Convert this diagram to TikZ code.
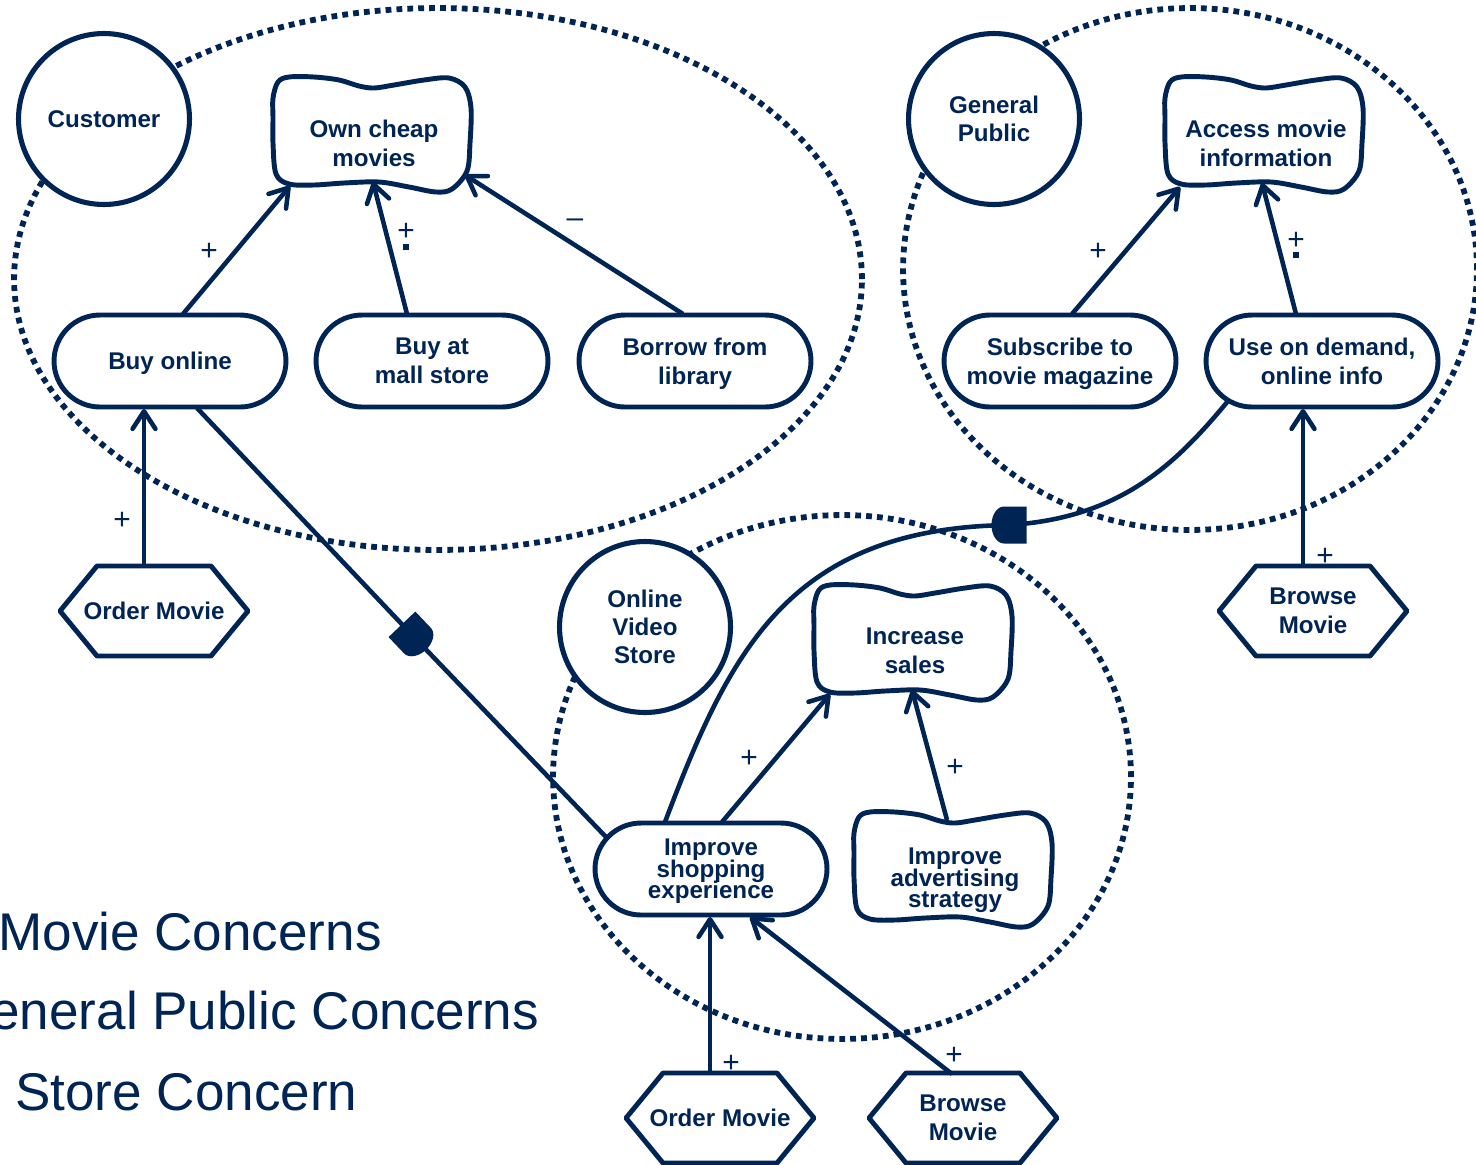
\documentclass[tikz,border=0pt]{standalone}
\usepackage{fontspec}
\setmainfont{Liberation Sans}
\usetikzlibrary{arrows.meta,shapes.misc,calc}
\definecolor{navy}{HTML}{002454}

\tikzset{
  actor/.style={circle, draw=navy, line width=2.9pt, fill=white, minimum size=3.42cm,
    inner sep=0pt, align=center, text=navy, text depth=0pt,
    font=\bfseries\fontsize{13.75}{16}\selectfont},
  goal/.style={rounded rectangle, draw=navy, line width=2.8pt, fill=white,
    minimum width=4.64cm, minimum height=1.84cm, inner sep=0pt, align=center, text=navy,
    text depth=0pt, font=\bfseries\fontsize{13.75}{16.4}\selectfont},
  lbl/.style={text=navy, font=\bfseries\fontsize{13.75}{16.4}\selectfont, align=center,
    inner sep=0pt, text depth=0pt},
  tight/.style={font={\bfseries\fontsize{13.75}{12.2}\selectfont\lineskiplimit-20pt\relax}},
  sgline/.style={draw=navy, line width=2.8pt, fill=white},
  taskline/.style={draw=navy, line width=2.8pt, fill=white, line join=round},
  boundary/.style={draw=navy, line width=3.3pt, dash pattern=on 3.3pt off 2.9pt},
  contrib/.style={draw=navy, line width=2.6pt, -{Straight Barb[length=10pt,width=13pt,round]}},
  dep/.style={draw=navy, line width=2.6pt},
  sign/.style={text=navy, font=\fontsize{17}{17}\selectfont, inner sep=0pt},
  concern/.style={text=navy, font=\fontsize{30.2}{36}\selectfont, anchor=base west, inner sep=0pt},
  dsym/.pic={\fill[navy] (-0.35cm,-0.37cm) -- (0.1cm,-0.37cm)
    arc[start angle=-90, end angle=90, x radius=0.25cm, y radius=0.37cm]
    -- (-0.35cm,0.37cm) -- cycle;}
}

% softgoal: cloud outline around a text node
\newcommand{\softgoal}[5][]{%
  \draw[sgline, shift={(#3,#4)}] plot[smooth cycle, tension=0.55] coordinates {
    (-85,-66) (-60,-66) (-35,-63) (-15,-57) (0,-55) (20,-58) (50,-63) (75,-65)
    (91,-56) (97,-35) (96,0) (93,28) (78,46) (62,49) (35,44) (5,39) (-30,40)
    (-60,42) (-85,41) (-98,31) (-101,0) (-101,-25) (-101,-45) (-96,-61)};
  \node[lbl,#1] (#2) at (#3,#4) {#5};
}
% task: hexagon around a text node
\newcommand{\taskhex}[4]{%
  \draw[taskline] (#2,#3) ++(-94,0) -- ++(37,-45) -- ++(114,0) -- ++(37,45)
    -- ++(-37,45) -- ++(-114,0) -- cycle;
  \node[lbl] (#1) at (#2,#3) {#4};
}

\begin{document}
\begin{tikzpicture}[x=0.02cm, y=-0.02cm]
\fill[white] (0,0) rectangle (1476,1164);
\useasboundingbox (0,0) rectangle (1476,1164);

% actor boundaries
\draw[boundary] (438,279) ellipse [x radius=8.48cm, y radius=5.42cm];
\draw[boundary] (1190,269) ellipse [x radius=5.74cm, y radius=5.22cm];
\draw[boundary] (842,777) ellipse [x radius=5.78cm, y radius=5.24cm];

% actors
\node[actor] (cust) at (104,119) {Customer};
\node[actor] (gp) at (994,119) {General\\Public};
\node[actor] (ovs) at (645,627) {Online\\Video\\Store};

% goals
\node[goal] (buy) at (170,361) {Buy online};
\node[goal] (mall) at (432,361) {Buy at\\mall store};
\node[goal] (borrow) at (695,361) {Borrow from\\library};
\node[goal] (subs) at (1060,361) {Subscribe to\\movie magazine};
\node[goal] (usedem) at (1322,361) {Use on demand,\\online info};
\node[goal, tight] (shop) at (711,869) {Improve\\shopping\\experience};

% softgoals
\softgoal{own}{374}{143}{Own cheap\\movies}
\softgoal{acc}{1266}{143}{Access movie\\information}
\softgoal{inc}{915}{651}{Increase\\sales}
\softgoal[tight]{adv}{955}{878}{Improve\\advertising\\strategy}

% tasks
\taskhex{order1}{154}{611}{Order Movie}
\taskhex{browse1}{1313}{611}{Browse\\Movie}
\taskhex{order2}{720}{1118}{Order Movie}
\taskhex{browse2}{963}{1118}{Browse\\Movie}

% contributions
\draw[contrib] ($(buy)+(13,-47)$) -- ($(own)+(-84,43)$);
\draw[contrib] ($(mall)+(-25,-47)$) -- ($(own)+(-1,39)$);
\draw[contrib] ($(borrow)+(-12,-47)$) -- ($(own)+(91,32)$);
\draw[contrib] ($(order1)+(-10,-45)$) -- ($(buy)+(-26,48)$);
\draw[contrib] ($(subs)+(12,-47)$) -- ($(acc)+(-86,44)$);
\draw[contrib] ($(usedem)+(-26,-47)$) -- ($(acc)+(-4,40)$);
\draw[contrib] ($(browse1)+(-10,-45)$) -- ($(usedem)+(-19,48)$);
\draw[contrib] ($(shop)+(11,-47)$) -- ($(inc)+(-85,43)$);
\draw[contrib] ($(adv)+(-8,-58)$) -- ($(inc)+(-3,39)$);
\draw[contrib] ($(order2)+(-10,-44)$) -- ($(shop)+(-1,48)$);
\draw[contrib] ($(browse2)+(-11,-44)$) -- ($(shop)+(39,48)$);

% contribution signs
\node[sign] (s1) at (209,252) {+};
\node[sign] (s2) at (406,232) {+};
\fill[navy] (403,244) rectangle (409,250);
\node[sign] (s3) at (575,223) {–};
\node[sign] (s4) at (122,521) {+};
\node[sign] (s5) at (1098,252) {+};
\node[sign] (s6) at (1296,241) {+};
\fill[navy] (1293,252) rectangle (1299,258);
\node[sign] (s7) at (1325,557) {+};
\node[sign] (s8) at (749,759) {+};
\node[sign] (s9) at (955,768) {+};
\node[sign] (s10) at (731,1064) {+};
\node[sign] (s11) at (954,1056) {+};

% dependencies
\coordinate (depL) at (414,637);
\draw[dep] ($(buy)+(27,47)$) -- (depL) -- ($(shop)+(-105,-32)$);
\path (depL) pic[rotate=-46.4] {dsym};
\coordinate (depR) at (1009,525);
\draw[dep] ($(shop)+(-46,-47)$) .. controls (730,650) and (790,528) .. (depR)
  .. controls (1120,518) and (1175,465) .. ($(usedem)+(-94,40)$);
\path (depR) pic[rotate=180] {dsym};

% concern captions
\node[concern] (c1) at (-2,950) {Movie Concerns};
\node[concern] (c2) at (-10,1029) {eneral Public Concerns};
\node[concern] (c3) at (15,1110) {Store Concern};
\end{tikzpicture}
\end{document}
